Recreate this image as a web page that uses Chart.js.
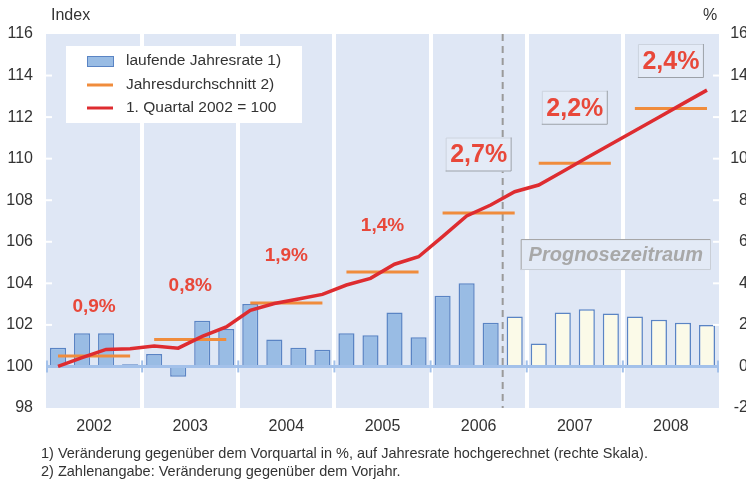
<!DOCTYPE html>
<html>
<head>
<meta charset="utf-8">
<script src="https://cdn.jsdelivr.net/npm/chart.js@4.4.1/dist/chart.umd.min.js"></script>
<style>
  html, body { margin: 0; padding: 0; background: #fff; overflow: hidden; }
  #wrap { position: relative; width: 746px; height: 482px; overflow: hidden; }
  #c { position: absolute; left: 0; top: 0; }
  .note { position: absolute; left: 41px; font: 14.5px 'Liberation Sans', Arial, sans-serif; color: #333; white-space: nowrap; line-height: 16px; }
</style>
</head>
<body>
<div id="wrap">
  <canvas id="c" width="748" height="482"></canvas>
  <div class="note" style="top:445px">1) Veränderung gegenüber dem Vorquartal in %, auf Jahresrate hochgerechnet (rechte Skala).</div>
  <div class="note" style="top:463px">2) Zahlenangabe: Veränderung gegenüber dem Vorjahr.</div>
</div>
<script>
// data
const years = ['2002', '2003', '2004', '2005', '2006', '2007', '2008'];
const quarters = years.flatMap(y => ['Q1', 'Q2', 'Q3', 'Q4'].map(q => y + ' ' + q));

// laufende Jahresrate in % (rechte Skala)
const rate = [0.9, 1.6, 1.6, 0.1,
              0.6, -0.5, 2.2, 1.8,
              3.0, 1.3, 0.9, 0.8,
              1.6, 1.5, 2.6, 1.4,
              3.4, 4.0, 2.1, 2.4,
              1.1, 2.6, 2.75, 2.55,
              2.4, 2.25, 2.1, 2.0];

// 1. Quartal 2002 = 100
const indexLevel = [100.0, 100.42, 100.82, 100.85,
                    100.98, 100.88, 101.45, 101.9,
                    102.7, 103.03, 103.25, 103.47,
                    103.92, 104.24, 104.92, 105.28,
                    106.25, 107.24, 107.77, 108.41,
                    108.73, 109.38, 110.04, 110.69,
                    111.34, 111.99, 112.65, 113.3];

// Jahresdurchschnitt
const annualAvg = [100.5, 101.3, 103.05, 104.55, 107.38, 109.78, 112.42];
const annualChange = ['0,9%', '0,8%', '1,9%', '1,4%', '2,7%', '2,2%', '2,4%'];
const forecastFrom = 19; // 2006 Q4

const leftTicks = { min: 98, max: 116, step: 2 };
const rightTicks = { min: -2, max: 16, step: 2 };

// layout of the percentage labels (index scale), not data
const changeLabelY = [102.9, 103.92, 105.37, 106.8, 110.2, 112.45, 114.7];

const FONT = "'Liberation Sans', Arial, sans-serif";
const BG = '#dfe7f5';
const BAR_FILL = '#99bce4';
const BAR_EDGE = '#5a84c4';
const FC_FILL = '#fbfae8';
const RED = '#de2c30';
const ORANGE = '#f08c3c';
const LABEL_RED = '#e8483a';

const avgPerQuarter = quarters.map((q, i) => annualAvg[Math.floor(i / 4)]);

function yearCenter(chart, k) {
  const x = chart.scales.x;
  return (x.getPixelForValue(k * 4) + x.getPixelForValue(k * 4 + 3)) / 2;
}

function edgeBox(ctx, x, y, w, h, fill, tl, br) {
  ctx.fillStyle = fill;
  ctx.fillRect(x, y, w, h);
  ctx.lineWidth = 1;
  ctx.strokeStyle = tl;
  ctx.beginPath();
  ctx.moveTo(x + 0.5, y + h); ctx.lineTo(x + 0.5, y + 0.5); ctx.lineTo(x + w, y + 0.5);
  ctx.stroke();
  ctx.strokeStyle = br;
  ctx.beginPath();
  ctx.moveTo(x + w - 0.5, y); ctx.lineTo(x + w - 0.5, y + h - 0.5); ctx.lineTo(x, y + h - 0.5);
  ctx.stroke();
}

const deco = {
  id: 'deco',
  beforeDraw(chart) {
    const { ctx, chartArea: a } = chart;
    ctx.save();
    ctx.fillStyle = BG;
    ctx.fillRect(a.left, a.top, a.right - a.left, a.bottom - a.top);
    ctx.restore();
  },
  beforeDatasetsDraw(chart) {
    const { ctx, chartArea: a, scales } = chart;
    const dx = (scales.x.getPixelForValue(forecastFrom - 1) + scales.x.getPixelForValue(forecastFrom)) / 2;
    ctx.save();
    ctx.strokeStyle = '#9a9a9a';
    ctx.lineWidth = 2;
    ctx.setLineDash([7, 5]);
    ctx.beginPath();
    ctx.moveTo(dx, a.top);
    ctx.lineTo(dx, a.bottom);
    ctx.stroke();
    ctx.restore();
  },
  afterDatasetDraw(chart, args) {
    if (args.index !== 0) return;
    const { ctx, chartArea: a, scales } = chart;
    const y0 = scales.y1.getPixelForValue(0);
    ctx.save();
    ctx.strokeStyle = '#a3c1ea';
    ctx.lineWidth = 3;
    ctx.beginPath();
    ctx.moveTo(a.left, y0);
    ctx.lineTo(a.right, y0);
    ctx.stroke();
    ctx.lineWidth = 2;
    const xs = [a.left + 1, a.right - 1];
    for (let k = 1; k < years.length; k++) {
      xs.push((scales.x.getPixelForValue(k * 4 - 1) + scales.x.getPixelForValue(k * 4)) / 2);
    }
    xs.forEach(x => {
      ctx.beginPath();
      ctx.moveTo(x, y0 - 6);
      ctx.lineTo(x, y0 + 6);
      ctx.stroke();
    });
    ctx.restore();
  },
  afterDraw(chart) {
    const { ctx, chartArea: a, scales } = chart;
    ctx.save();

    // white tick marks inside the plot
    ctx.strokeStyle = '#ffffff';
    ctx.lineWidth = 2;
    for (let v = leftTicks.min + 2 * leftTicks.step; v < leftTicks.max; v += leftTicks.step) {
      const y = scales.y.getPixelForValue(v);
      ctx.beginPath(); ctx.moveTo(a.left, y); ctx.lineTo(a.left + 6, y); ctx.stroke();
      ctx.beginPath(); ctx.moveTo(a.right - 6, y); ctx.lineTo(a.right, y); ctx.stroke();
    }

    // axis titles
    ctx.fillStyle = '#333';
    ctx.font = '16px ' + FONT;
    ctx.textBaseline = 'middle';
    ctx.textAlign = 'left';
    ctx.fillText('Index', 51, 16);
    ctx.fillText('%', 703, 16);

    // Prognosezeitraum box
    const dx = (scales.x.getPixelForValue(forecastFrom - 1) + scales.x.getPixelForValue(forecastFrom)) / 2;
    const pTop = scales.y.getPixelForValue(106.13);
    const pBot = scales.y.getPixelForValue(104.64);
    const pL = dx + 18, pR = a.right - 8;
    edgeBox(ctx, pL, pTop, pR - pL, pBot - pTop, '#e3eaf6', '#a2a2a2', '#c9ced6');
    ctx.fillStyle = '#a8a8a8';
    ctx.font = 'italic bold 20px ' + FONT;
    ctx.textAlign = 'center';
    ctx.fillText('Prognosezeitraum', (pL + pR) / 2, (pTop + pBot) / 2 + 1);

    // annual change labels
    annualChange.forEach((t, k) => {
      const cx = yearCenter(chart, k);
      const cy = scales.y.getPixelForValue(changeLabelY[k]);
      if (k >= 4) {
        edgeBox(ctx, cx - 33, cy - 17, 66, 34, '#e4ebf7', '#ccd3de', '#9ca1a8');
        ctx.font = 'bold 25px ' + FONT;
      } else {
        ctx.font = 'bold 19px ' + FONT;
      }
      ctx.fillStyle = LABEL_RED;
      ctx.textAlign = 'center';
      ctx.fillText(t, cx, cy + 1);
    });

    // legend
    ctx.fillStyle = '#ffffff';
    ctx.fillRect(66, 46, 236, 77);
    ctx.fillStyle = BAR_FILL;
    ctx.fillRect(87, 56, 26, 10);
    ctx.strokeStyle = BAR_EDGE;
    ctx.lineWidth = 1;
    ctx.strokeRect(87.5, 56.5, 26, 10);
    ctx.lineWidth = 3;
    ctx.strokeStyle = ORANGE;
    ctx.beginPath(); ctx.moveTo(87, 85); ctx.lineTo(113, 85); ctx.stroke();
    ctx.strokeStyle = RED;
    ctx.beginPath(); ctx.moveTo(87, 108); ctx.lineTo(113, 108); ctx.stroke();
    ctx.fillStyle = '#333';
    ctx.font = '15.5px ' + FONT;
    ctx.textAlign = 'left';
    ctx.fillText('laufende Jahresrate 1)', 126, 61);
    ctx.fillText('Jahresdurchschnitt 2)', 126, 85);
    ctx.fillText('1. Quartal 2002 = 100', 126, 108);

    ctx.restore();
  }
};

new Chart(document.getElementById('c'), {
  data: {
    labels: quarters,
    datasets: [
      {
        type: 'bar',
        label: 'laufende Jahresrate 1)',
        data: rate,
        yAxisID: 'y1',
        order: 2,
        backgroundColor: rate.map((v, i) => i >= forecastFrom ? FC_FILL : BAR_FILL),
        borderColor: BAR_EDGE,
        borderWidth: 1.5,
        barPercentage: 0.67,
        categoryPercentage: 1
      },
      {
        type: 'line',
        label: 'Jahresdurchschnitt 2)',
        data: avgPerQuarter,
        yAxisID: 'y',
        order: 1,
        borderColor: ORANGE,
        borderWidth: 3,
        borderCapStyle: 'butt',
        pointRadius: 0,
        tension: 0,
        segment: {
          borderColor: c => Math.floor(c.p0DataIndex / 4) === Math.floor(c.p1DataIndex / 4) ? ORANGE : 'transparent'
        }
      },
      {
        type: 'line',
        label: '1. Quartal 2002 = 100',
        data: indexLevel,
        yAxisID: 'y',
        order: 0,
        borderColor: RED,
        borderWidth: 3.5,
        pointRadius: 0,
        tension: 0
      }
    ]
  },
  options: {
    responsive: false,
    animation: false,
    devicePixelRatio: 1,
    layout: { padding: { top: 34, left: 0, right: 0, bottom: 0 } },
    plugins: { legend: { display: false }, tooltip: { enabled: false } },
    scales: {
      x: {
        offset: true,
        border: { display: false },
        grid: {
          offset: true,
          drawTicks: false,
          lineWidth: 4,
          color: c => (c.index > 0 && c.index % 4 === 0) ? '#ffffff' : 'rgba(0,0,0,0)'
        },
        ticks: {
          autoSkip: false,
          maxRotation: 0,
          labelOffset: 12,
          padding: 9,
          color: '#333',
          font: { family: FONT, size: 16 },
          callback: (v, i) => i % 4 === 1 ? years[Math.floor(i / 4)] : ''
        },
        afterFit: s => { s.height = 74; }
      },
      y: {
        position: 'left',
        min: leftTicks.min,
        max: leftTicks.max,
        border: { display: false },
        grid: { display: false, drawTicks: false },
        ticks: { stepSize: leftTicks.step, padding: 13, color: '#333', font: { family: FONT, size: 16 } },
        afterFit: s => { s.width = 46; }
      },
      y1: {
        position: 'right',
        min: rightTicks.min,
        max: rightTicks.max,
        border: { display: false },
        grid: { display: false, drawTicks: false },
        ticks: { stepSize: rightTicks.step, crossAlign: 'far', color: '#333', font: { family: FONT, size: 16 } },
        afterFit: s => { s.width = 29; }
      }
    }
  },
  plugins: [deco]
});
</script>
</body>
</html>
